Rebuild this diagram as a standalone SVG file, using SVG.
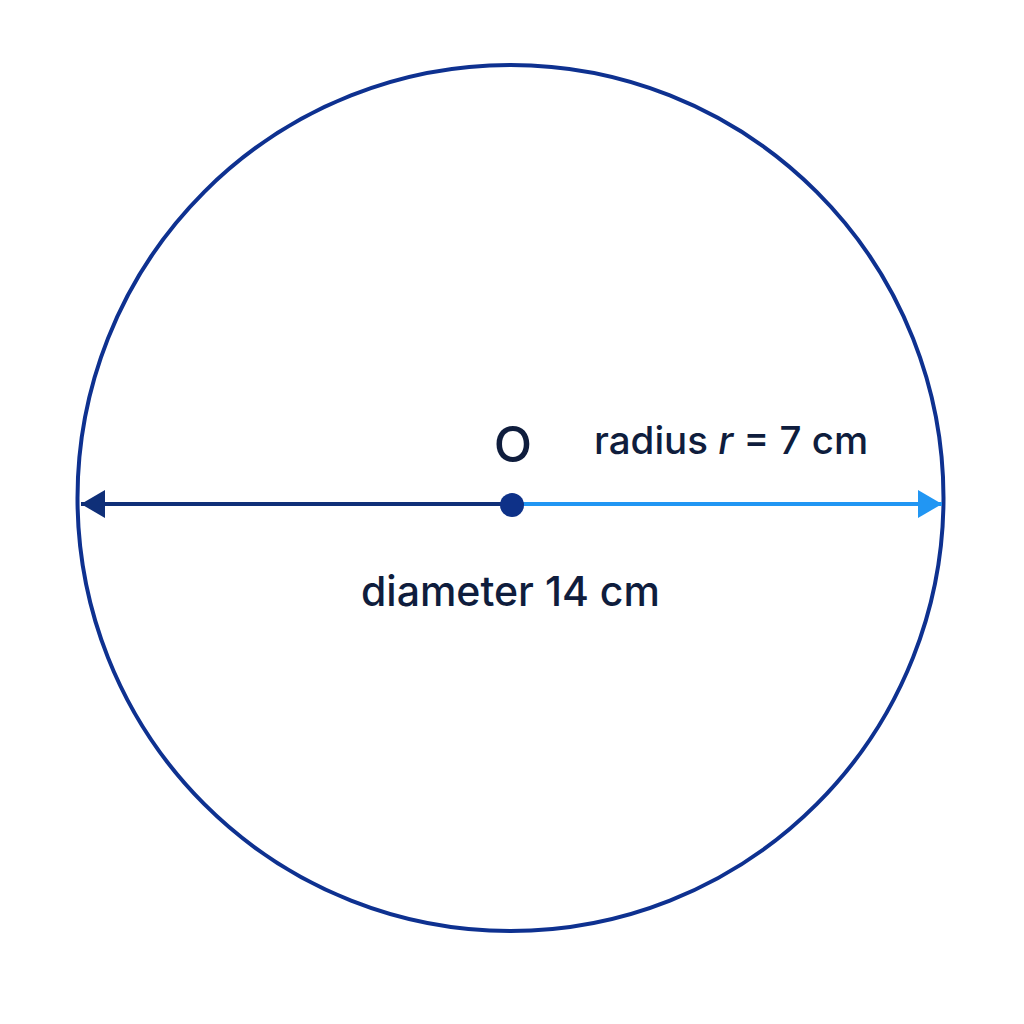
<svg xmlns="http://www.w3.org/2000/svg" width="1024" height="1024" viewBox="0 0 1024 1024">
  <style>
    .lbl { font-family: Inter, "Liberation Sans", sans-serif; fill: #0f1d3d; font-weight: 500; }
  </style>
  <defs>
    <marker id="arrDark" viewBox="0 0 24 28" refX="24" refY="14" markerWidth="24" markerHeight="28" markerUnits="userSpaceOnUse" orient="auto">
      <path d="M0,0 L24,14 L0,28 Z" fill="#0f2f78"/>
    </marker>
    <marker id="arrLight" viewBox="0 0 24 28" refX="24" refY="14" markerWidth="24" markerHeight="28" markerUnits="userSpaceOnUse" orient="auto">
      <path d="M0,0 L24,14 L0,28 Z" fill="#2196f3"/>
    </marker>
  </defs>
  <rect width="1024" height="1024" fill="#ffffff"/>
  <g id="circle">
    <circle cx="510.5" cy="498" r="433" fill="none" stroke="#0e3190" stroke-width="4"/>
  </g>
  <g id="connectors">
    <line x1="512" y1="504" x2="81" y2="504" stroke="#0f2f78" stroke-width="4" marker-end="url(#arrDark)"/>
    <line x1="512" y1="504" x2="942" y2="504" stroke="#2196f3" stroke-width="4" marker-end="url(#arrLight)"/>
  </g>
  <g id="center">
    <circle cx="512" cy="505" r="12" fill="#0e3188"/>
    <text class="lbl" x="513" y="462" font-size="50" text-anchor="middle">O</text>
  </g>
  <g id="radius-label">
    <text class="lbl" x="594" y="454" font-size="38.5">radius <tspan font-style="italic">r</tspan> = 7 cm</text>
  </g>
  <g id="diameter-label">
    <text class="lbl" x="361" y="606" font-size="41">diameter 14 cm</text>
  </g>
</svg>
